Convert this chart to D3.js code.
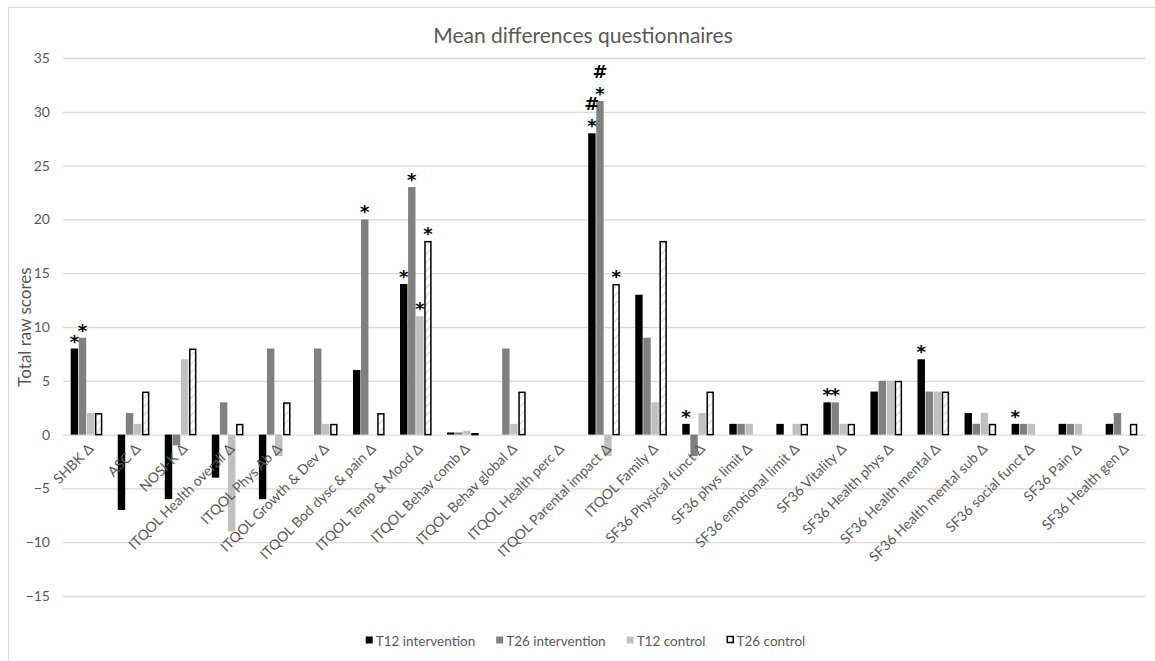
<!DOCTYPE html>
<html>
<head>
<meta charset="utf-8">
<script src="https://cdn.jsdelivr.net/npm/d3@7"></script>
<style>
  html, body { margin: 0; padding: 0; background: #fff; }
  svg { display: block; font-family: Lato, "Open Sans", "DejaVu Sans", sans-serif; }
</style>
</head>
<body>
<svg id="chart" width="1155" height="661"></svg>
<script>
const categories = [
  "SHBK Δ", "ASC Δ", "NOSI-K Δ", "ITQOL Health overall Δ", "ITQOL Phys Ab Δ",
  "ITQOL Growth & Dev Δ", "ITQOL Bod dysc & pain Δ", "ITQOL Temp & Mood Δ",
  "ITQOL Behav comb Δ", "ITQOL Behav global Δ", "ITQOL Health perc Δ",
  "ITQOL Parental impact Δ", "ITQOL Family Δ", "SF36 Physical funct Δ",
  "SF36 phys limit Δ", "SF36 emotional limit Δ", "SF36 Vitality Δ",
  "SF36 Health phys Δ", "SF36 Health mental Δ", "SF36 Health mental sub Δ",
  "SF36 social funct Δ", "SF36 Pain Δ", "SF36 Health gen Δ"
];
const seriesNames = ["T12 intervention", "T26 intervention", "T12 control", "T26 control"];
const t12Intervention = [8, -7, -6, -4, -6, 0, 6, 14, 0.2, 0, 0, 28, 13, 1, 1, 1, 3, 4, 7, 2, 1, 1, 1];
const t26Intervention = [9, 2, -1, 3, 8, 8, 20, 23, 0.2, 8, 0, 31, 9, -2, 1, 0, 3, 5, 4, 1, 1, 1, 2];
const t12Control      = [2, 1, 7, -9, -2, 1, 0, 11, 0.35, 1, 0, -2, 3, 2, 1, 1, 1, 5, 4, 2, 1, 1, 0];
const t26Control      = [2, 4, 8, 1, 3, 1, 2, 18, 0.15, 4, 0, 14, 18, 4, 0, 1, 1, 5, 4, 1, 0, 0, 1];
const yTicks = [-15, -10, -5, 0, 5, 10, 15, 20, 25, 30, 35];
// significance marks: category index, series index, marks stacked upward
const annotations = [
  [0, 0, ["*"]], [0, 1, ["*"]],
  [6, 1, ["*"]],
  [7, 0, ["*"]], [7, 1, ["*"]], [7, 2, ["*"]], [7, 3, ["*"]],
  [11, 0, ["*", "#"]], [11, 1, ["*", "#"]], [11, 3, ["*"]],
  [13, 0, ["*"]],
  [16, 0, ["*"]], [16, 1, ["*"]],
  [18, 0, ["*"]],
  [20, 0, ["*"]]
];
const titleText = "Mean differences questionnaires";
const yTitle = "Total raw scores";

const seriesValues = [t12Intervention, t26Intervention, t12Control, t26Control];
const fills = ["#000000", "#808080", "#c0c0c0", "url(#hatch)"];
const strokes = ["none", "none", "none", "#000000"];

const svg = d3.select("#chart");
const textColor = "#595959";

// hatch pattern
const defs = svg.append("defs");
const pat = defs.append("pattern").attr("id", "hatch").attr("patternUnits", "userSpaceOnUse")
  .attr("width", 6).attr("height", 6).attr("patternTransform", "rotate(45)");
pat.append("rect").attr("width", 6).attr("height", 6).attr("fill", "#ffffff");
pat.append("line").attr("x1", 0).attr("y1", 0).attr("x2", 0).attr("y2", 6)
  .attr("stroke", "#c8c8c8").attr("stroke-width", 1.5);

// chart border
svg.append("rect").attr("x", 8.5).attr("y", 7.5).attr("width", 1160).attr("height", 670)
  .attr("fill", "none").attr("stroke", "#d9d9d9").attr("stroke-width", 1);

const plotLeft = 63, plotRight = 1145, plotTop = 58, plotBottom = 596;
const y = d3.scaleLinear().domain([-15, 35]).range([plotBottom, plotTop]);
const x0 = d3.scaleBand().domain(categories).range([plotLeft, plotRight])
  .paddingInner(0.3).paddingOuter(0.15);
const x1 = d3.scaleBand().domain(d3.range(4)).range([0, x0.bandwidth()]).padding(0.08);

// gridlines + tick labels via axis
const yAxis = d3.axisLeft(y).tickValues(yTicks).tickSize(-(plotRight - plotLeft)).tickPadding(13);
const gy = svg.append("g").attr("transform", `translate(${plotLeft},0)`).call(yAxis);
gy.select(".domain").remove();
gy.selectAll(".tick line").attr("stroke", "#d9d9d9").attr("stroke-width", 1.3);
gy.selectAll(".tick text").attr("fill", textColor).attr("font-size", 14)
  .attr("font-family", "Lato, 'Open Sans', sans-serif");

// bars
const groups = svg.append("g").selectAll("g").data(categories).join("g")
  .attr("transform", d => `translate(${x0(d)},0)`);
groups.selectAll("rect").data((d, i) => seriesValues.map((s, k) => ({k, v: s[i]})))
  .join("rect")
  .attr("x", d => x1(d.k) + (d.k === 3 ? 0.75 : 0))
  .attr("width", d => x1.bandwidth() - (d.k === 3 ? 1.5 : 0))
  .attr("y", d => Math.min(y(d.v), y(0)) + (d.k === 3 && d.v !== 0 ? 0.75 : 0))
  .attr("height", d => Math.max(0, Math.abs(y(d.v) - y(0)) - (d.k === 3 && d.v !== 0 ? 0.75 : 0)))
  .attr("fill", d => fills[d.k])
  .attr("stroke", d => d.v === 0 ? "none" : strokes[d.k])
  .attr("stroke-width", 1.5);

// annotations
const ann = svg.append("g");
annotations.forEach(([ci, si, marks]) => {
  const v = seriesValues[si][ci];
  const cx = x0(categories[ci]) + x1(si) + x1.bandwidth() / 2;
  const top = y(Math.max(v, 0));
  marks.forEach((m, j) => {
    const isHash = m === "#";
    ann.append("text")
      .attr("x", cx)
      .attr("y", isHash ? top - 23 - (j - 1) * 20 : top - 1 - j * 20)
      .attr("text-anchor", "middle")
      .attr("font-size", isHash ? 18 : 18)
      .attr("font-weight", "bold")
      .attr("font-family", "'DejaVu Sans', sans-serif")
      .attr("fill", "#000")
      .text(m);
  });
});

// category labels
const labelG = svg.append("g");
categories.forEach(c => {
  const cx = x0(c) + x0.bandwidth() / 2;
  labelG.append("text")
    .attr("transform", `translate(${cx + 1},${y(0) + 8}) rotate(-45)`)
    .attr("text-anchor", "end")
    .attr("dy", "0.7em")
    .attr("font-size", 14)
    .attr("fill", textColor)
    .text(c);
});

// title
svg.append("text").attr("x", 583).attr("y", 43).attr("text-anchor", "middle")
  .attr("font-size", 21).attr("fill", textColor).text(titleText);

// y title
svg.append("text").attr("transform", `translate(31,${(plotTop + plotBottom) / 2}) rotate(-90)`)
  .attr("text-anchor", "middle").attr("font-size", 17).attr("fill", textColor).text(yTitle);

// legend
const legend = svg.append("g");
let lx = 0;
seriesNames.forEach((name, k) => {
  const g = legend.append("g").attr("transform", `translate(${lx},0)`);
  g.append("rect").attr("x", k === 3 ? 0.75 : 0).attr("y", -4.5)
    .attr("width", k === 3 ? 6 : 7).attr("height", k === 3 ? 6 : 7)
    .attr("fill", k === 3 ? "#fff" : fills[k]).attr("stroke", strokes[k]).attr("stroke-width", 1.5);
  const t = g.append("text").attr("x", 10).attr("y", 0).attr("dy", "0.35em")
    .attr("font-size", 13.5).attr("fill", textColor).text(name);
  const w = 10 + t.node().getComputedTextLength();
  lx += w + 21;
});
const totalW = lx - 21;
legend.attr("transform", `translate(${585.5 - totalW / 2},641)`);
</script>
</body>
</html>
